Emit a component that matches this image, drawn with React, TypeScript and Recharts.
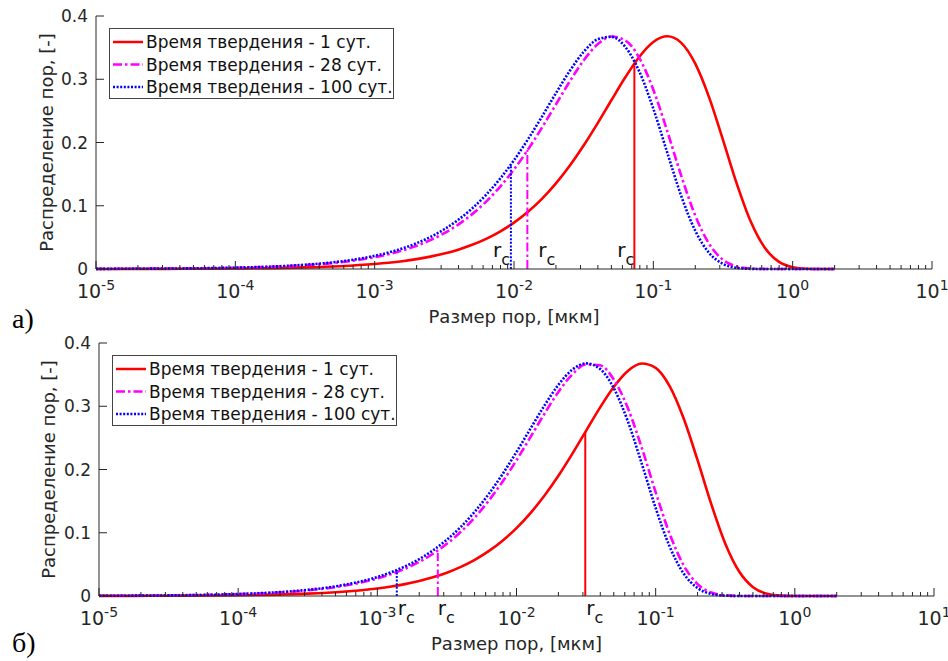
import React from "react"
import { LineChart, Line, XAxis, YAxis, ReferenceLine } from "recharts"

// pore radius grid, мкм
const poreSize = [
  0.00001, 0.0000178, 0.0000316, 0.0000562, 0.0001, 0.000178, 0.000316, 0.000562,
  0.001, 0.00126, 0.00158, 0.002, 0.00251, 0.00316, 0.00398, 0.00501, 0.00631, 0.00794,
  0.01, 0.0126, 0.0158, 0.02, 0.0251, 0.0316, 0.0398, 0.0501, 0.0631, 0.0794,
  0.1, 0.126, 0.158, 0.2, 0.251, 0.316, 0.398, 0.501, 0.631, 0.794,
  1, 1.26, 1.58, 2,
]

// panel а)
const panelA_day1 = [
  0.0001, 0.00014, 0.00025, 0.00045, 0.00079, 0.00141, 0.0025, 0.00444,
  0.00788, 0.0099, 0.01238, 0.01562, 0.01953, 0.02446, 0.03061, 0.03821, 0.04763, 0.05917,
  0.07331, 0.0905, 0.1106, 0.1354, 0.1632, 0.1952, 0.2303, 0.2672, 0.3035, 0.3356,
  0.3589, 0.3679, 0.3579, 0.3246, 0.2717, 0.2042, 0.1342, 0.0746, 0.0335, 0.01156,
  0.00283, 0.00045, 0.00004, 0,
]
const panelA_day28 = [
  0.00019, 0.00034, 0.0006, 0.00107, 0.0019, 0.00338, 0.00598, 0.01059,
  0.01869, 0.02343, 0.02921, 0.03667, 0.04558, 0.05667, 0.07027, 0.08675, 0.1066, 0.13,
  0.1574, 0.1888, 0.2228, 0.2603, 0.2964, 0.3297, 0.3552, 0.3675, 0.3613, 0.3334,
  0.2834, 0.2177, 0.1484, 0.0844, 0.0401, 0.01465, 0.00387, 0.00068, 0.00007, 0,
  0, 0, 0, 0,
]
const panelA_day100 = [
  0.00021, 0.00038, 0.00067, 0.00119, 0.00212, 0.00377, 0.00668, 0.01182,
  0.02083, 0.0261, 0.0325, 0.04078, 0.05062, 0.06286, 0.0778, 0.0958, 0.1174, 0.1427,
  0.172, 0.2051, 0.2402, 0.278, 0.313, 0.3432, 0.3631, 0.3671, 0.3507, 0.312,
  0.2534, 0.1837, 0.1165, 0.0604, 0.0256, 0.0081, 0.0018, 0.00025, 0.00002, 0,
  0, 0, 0, 0,
]
// r_c markers (1, 28, 100 сут.)
const panelA_rc = [0.0731, 0.01247, 0.0095]
const panelA_rcValue = [0.322, 0.188, 0.164]

// panel б)
const panelB_day1 = [
  0.00012, 0.00022, 0.00038, 0.00068, 0.00121, 0.00215, 0.00382, 0.00677,
  0.01198, 0.01504, 0.01879, 0.02366, 0.02951, 0.03686, 0.04597, 0.05715, 0.07085, 0.0874,
  0.1074, 0.1311, 0.1581, 0.1902, 0.2244, 0.2611, 0.2978, 0.3308, 0.3559, 0.3676,
  0.3607, 0.3317, 0.2821, 0.2147, 0.1452, 0.0831, 0.0387, 0.01397, 0.00365, 0.00064,
  0.00007, 0, 0, 0,
]
const panelB_day28 = [
  0.00029, 0.00051, 0.0009, 0.0016, 0.00285, 0.00506, 0.00895, 0.0158,
  0.02777, 0.03473, 0.04315, 0.05397, 0.06675, 0.0825, 0.1015, 0.124, 0.1506, 0.1808,
  0.2147, 0.2512, 0.2874, 0.3227, 0.3501, 0.366, 0.3648, 0.342, 0.2971, 0.2346,
  0.1641, 0.0984, 0.0495, 0.01884, 0.00551, 0.00108, 0.00013, 0, 0, 0,
  0, 0, 0, 0,
]
const panelB_day100 = [
  0.00031, 0.00055, 0.00098, 0.00174, 0.0031, 0.0055, 0.00972, 0.01715,
  0.0301, 0.0376, 0.04672, 0.05837, 0.07211, 0.089, 0.1092, 0.1332, 0.1611, 0.1927,
  0.2277, 0.2646, 0.3004, 0.3338, 0.3575, 0.3678, 0.3591, 0.3283, 0.2762, 0.2094,
  0.1391, 0.0782, 0.0363, 0.01247, 0.00321, 0.00054, 0.00005, 0, 0, 0,
  0, 0, 0, 0,
]
const panelB_rc = [0.0312, 0.00272, 0.00138]
const panelB_rcValue = [0.259, 0.068, 0.041]

const seriesNames = ["Время твердения - 1 сут.", "Время твердения - 28 сут.", "Время твердения - 100 сут."]
const majorTicks = [1e-5, 1e-4, 1e-3, 1e-2, 1e-1, 1, 10]
const tickExponents = ["-5", "-4", "-3", "-2", "-1", "0", "1"]
const yTicks = [0, 0.1, 0.2, 0.3, 0.4]

const minorTicks = majorTicks.slice(0, -1).flatMap((m) => [2, 3, 4, 5, 6, 7, 8, 9].map((k) => k * m))
const xTicks = [...majorTicks, ...minorTicks]

const FONT = "'DejaVu Sans', sans-serif"
const AXIS = "#262626"
const keys = ["d1", "d28", "d100"]
const styles = [
  { color: "#ff0000", dash: undefined },
  { color: "#ff00ff", dash: "9 3 2.5 3" },
  { color: "#0000ff", dash: "2 1.6" },
]

const buildRows = (a: number[], b: number[], c: number[]) =>
  poreSize.map((r, i) => ({ r, d1: a[i], d28: b[i], d100: c[i] }))

const dataA = buildRows(panelA_day1, panelA_day28, panelA_day100)
const dataB = buildRows(panelB_day1, panelB_day28, panelB_day100)

const BottomTick = ({ x, y, payload }: any) => {
  const i = majorTicks.indexOf(payload.value)
  return (
    <g>
      <line x1={x} y1={y} x2={x} y2={y - (i >= 0 ? 8 : 4)} stroke={AXIS} />
      {i >= 0 && (
        <text x={x} y={y + 29} textAnchor="middle" fontSize={19} fill={AXIS} fontFamily={FONT}>
          10
          <tspan dy={-8} fontSize={14}>
            {tickExponents[i]}
          </tspan>
        </text>
      )}
    </g>
  )
}

const TopTick = ({ x, y, payload }: any) => {
  const major = majorTicks.includes(payload.value)
  return <line x1={x} y1={y} x2={x} y2={y + (major ? 8 : 4)} stroke={AXIS} />
}

const LeftTick = ({ x, y, payload }: any) => (
  <g>
    <line x1={x} y1={y} x2={x + 8} y2={y} stroke={AXIS} />
    <text x={x - 8} y={y} dy="0.36em" textAnchor="end" fontSize={17} fill={AXIS} fontFamily={FONT}>
      {payload.value}
    </text>
  </g>
)

const RightTick = ({ x, y }: any) => <line x1={x} y1={y} x2={x - 8} y2={y} stroke={AXIS} />

const xTitle = ({ viewBox }: any) => (
  <text
    x={viewBox.x + viewBox.width / 2}
    y={viewBox.y + 54}
    textAnchor="middle"
    fontSize={18}
    fill={AXIS}
    fontFamily={FONT}
  >
    Размер пор, [мкм]
  </text>
)

const yTitle = (cx: number) => ({ viewBox }: any) => {
  const cy = viewBox.y + viewBox.height / 2
  return (
    <text
      x={cx}
      y={cy}
      dy="0.36em"
      transform={`rotate(-90 ${cx} ${cy})`}
      textAnchor="middle"
      fontSize={18}
      fill={AXIS}
      fontFamily={FONT}
    >
      Распределение пор, [-]
    </text>
  )
}

const rcLabel = (dx: number, dy: number) => ({ viewBox }: any) => (
  <text x={viewBox.x + dx} y={viewBox.y + viewBox.height + dy} fontSize={20} fill="#111" fontFamily={FONT}>
    r
    <tspan dy={8} fontSize={16}>
      c
    </tspan>
  </text>
)

const PanelLegend = ({ left, top }: { left: number; top: number }) => (
  <svg style={{ position: "absolute", left, top }} width={286} height={72}>
    <rect x={0.5} y={0.5} width={284} height={70} fill="#fff" stroke="#444" />
    {seriesNames.map((name, i) => {
      const cy = 14 + i * 22.5
      return (
        <g key={name}>
          <line x1={4} x2={34} y1={cy} y2={cy} stroke={styles[i].color} strokeWidth={2.5} strokeDasharray={styles[i].dash} />
          <text x={37} y={cy + 6} fontSize={17} fill="#111" fontFamily={FONT}>
            {name}
          </text>
        </g>
      )
    })}
  </svg>
)

interface PanelProps {
  data: any[]
  rc: number[]
  rcValue: number[]
  rcOffsets: { dx: number; dy: number }[]
  height: number
  left: number
  right: number
  xAxisHeight: number
  yTitleX: number
}

function Panel({ data, rc, rcValue, rcOffsets, height, left, right, xAxisHeight, yTitleX }: PanelProps) {
  return (
    <LineChart width={948} height={height} data={data} margin={{ top: 16, right, bottom: 0, left: 0 }}>
      <XAxis
        dataKey="r"
        type="number"
        scale="log"
        domain={[1e-5, 10]}
        allowDataOverflow
        ticks={xTicks}
        interval={0}
        tick={<BottomTick />}
        tickLine={false}
        tickSize={0}
        tickMargin={0}
        height={xAxisHeight}
        axisLine={{ stroke: AXIS }}
        label={xTitle}
      />
      <XAxis
        xAxisId="top"
        orientation="top"
        type="number"
        scale="log"
        domain={[1e-5, 10]}
        allowDataOverflow
        ticks={xTicks}
        interval={0}
        tick={<TopTick />}
        tickLine={false}
        tickSize={0}
        tickMargin={0}
        height={0}
        axisLine={{ stroke: AXIS }}
      />
      <YAxis
        type="number"
        domain={[0, 0.4]}
        ticks={yTicks}
        interval={0}
        width={left}
        tick={<LeftTick />}
        tickLine={false}
        tickSize={0}
        tickMargin={0}
        axisLine={{ stroke: AXIS }}
        label={yTitle(yTitleX)}
      />
      <YAxis
        yAxisId="right"
        orientation="right"
        type="number"
        domain={[0, 0.4]}
        ticks={yTicks}
        interval={0}
        width={0}
        tick={<RightTick />}
        tickLine={false}
        tickSize={0}
        tickMargin={0}
        axisLine={{ stroke: AXIS }}
      />
      {keys.map((k, i) => (
        <Line
          key={k}
          dataKey={k}
          type="monotone"
          stroke={styles[i].color}
          strokeWidth={2.6}
          strokeDasharray={styles[i].dash}
          dot={false}
          activeDot={false}
          isAnimationActive={false}
        />
      ))}
      {rc.map((v, i) => (
        <ReferenceLine
          key={"rc" + i}
          segment={[
            { x: v, y: 0 },
            { x: v, y: rcValue[i] },
          ]}
          stroke={styles[i].color}
          strokeWidth={2}
          strokeDasharray={styles[i].dash}
          label={rcLabel(rcOffsets[i].dx, rcOffsets[i].dy)}
        />
      ))}
    </LineChart>
  )
}

export default function App() {
  return (
    <div style={{ position: "absolute", left: 0, top: 0, width: 948, height: 661, background: "#fff" }}>
      <div style={{ position: "absolute", left: 0, top: 0 }}>
        <Panel
          data={dataA}
          rc={panelA_rc}
          rcValue={panelA_rcValue}
          rcOffsets={[
            { dx: -17, dy: -12 },
            { dx: 11, dy: -12 },
            { dx: -18, dy: -12 },
          ]}
          height={327}
          left={96}
          right={16}
          xAxisHeight={58}
          yTitleX={47}
        />
      </div>
      <div style={{ position: "absolute", left: 0, top: 327 }}>
        <Panel
          data={dataB}
          rc={panelB_rc}
          rcValue={panelB_rcValue}
          rcOffsets={[
            { dx: 1, dy: 19 },
            { dx: 0, dy: 19 },
            { dx: 1, dy: 19 },
          ]}
          height={334}
          left={99}
          right={14}
          xAxisHeight={65}
          yTitleX={49}
        />
      </div>
      <PanelLegend left={109} top={28} />
      <PanelLegend left={112} top={355} />
      <svg style={{ position: "absolute", left: 0, top: 0, pointerEvents: "none" }} width={948} height={661}>
        <text x={12} y={328} fontSize={28} fontFamily="'Liberation Serif', serif" fill="#000">
          а)
        </text>
        <text x={12} y={652} fontSize={28} fontFamily="'Liberation Serif', serif" fill="#000">
          б)
        </text>
      </svg>
    </div>
  )
}
